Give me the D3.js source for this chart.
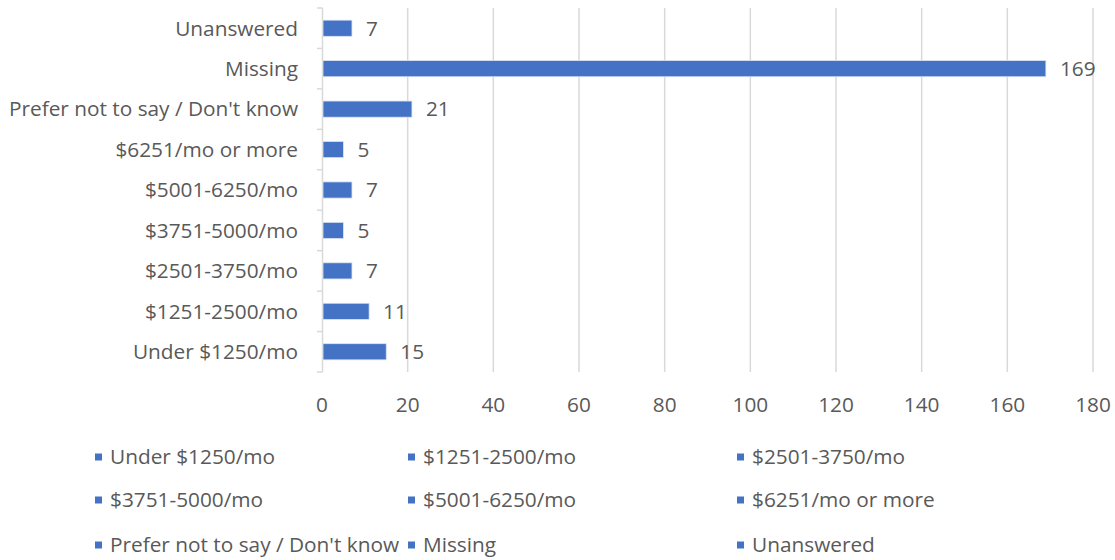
<!DOCTYPE html>
<html><head><meta charset="utf-8">
<script src="https://cdn.jsdelivr.net/npm/d3@7"></script>
<style>body{margin:0;background:#fff}text{font-family:"Open Sans",sans-serif;fill:#595959}</style>
</head><body>
<svg id="c" width="1115" height="560"></svg>
<script>
const categories = ["Under $1250/mo","$1251-2500/mo","$2501-3750/mo","$3751-5000/mo","$5001-6250/mo","$6251/mo or more","Prefer not to say / Don't know","Missing","Unanswered"];
const values = [15,11,7,5,7,5,21,169,7];
const xTicks = [0,20,40,60,80,100,120,140,160,180];
const legendLabels = categories;

const svg = d3.select("#c");
const pLeft = 322, pRight = 1093, pTop = 8, pBottom = 372;
const x = d3.scaleLinear().domain([0,180]).range([pLeft,pRight]);
const y = d3.scaleBand().domain(categories.slice().reverse()).range([pTop,pBottom]).paddingInner(0.6).paddingOuter(0.3);
const yb = d3.scaleBand().domain(categories.slice().reverse()).range([pTop,pBottom]);
const color = "#4472C4";
const fs = 20.8;

// gridlines
svg.append("g").selectAll("line").data(xTicks.slice(1)).join("line")
  .attr("x1",d=>x(d)).attr("x2",d=>x(d)).attr("y1",pTop).attr("y2",pBottom)
  .attr("stroke","#d9d9d9").attr("stroke-width",1.5);

// y axis line and boundary ticks
svg.append("line").attr("x1",pLeft+0.5).attr("x2",pLeft+0.5).attr("y1",pTop).attr("y2",pBottom).attr("stroke","#d9d9d9").attr("stroke-width",1.5);
const bounds = categories.map(c=>yb(c)).concat([pBottom]);
svg.append("g").selectAll("line").data(bounds).join("line")
  .attr("x1",pLeft-5).attr("x2",pLeft+0.5).attr("y1",d=>d).attr("y2",d=>d)
  .attr("stroke","#d9d9d9").attr("stroke-width",1.5);

// bars
svg.append("g").selectAll("rect").data(categories).join("rect")
  .attr("x",x(0)+1).attr("y",d=>y(d)).attr("height",y.bandwidth())
  .attr("width",(d,i)=>x(values[i])-x(0)-1).attr("fill",color)
  .attr("stroke","#dbe4f5").attr("stroke-width",0.8);

// value labels
svg.append("g").selectAll("text").data(categories).join("text")
  .attr("x",(d,i)=>x(values[i])+14).attr("y",d=>y(d)+y.bandwidth()/2)
  .attr("dy","0.35em").attr("font-size",fs).text((d,i)=>values[i]);

// category labels
svg.append("g").selectAll("text").data(categories).join("text")
  .attr("x",298).attr("y",d=>yb(d)+yb.bandwidth()/2).attr("dy","0.35em")
  .attr("text-anchor","end").attr("font-size",fs).text(d=>d);

// x tick labels
svg.append("g").selectAll("text").data(xTicks).join("text")
  .attr("x",d=>x(d)).attr("y",405).attr("dy","0.35em").attr("text-anchor","middle")
  .attr("font-size",fs).text(d=>d);

// legend
const colX = [95,408,737], rowY = [457,500,545];
const lg = svg.append("g").selectAll("g").data(legendLabels).join("g")
  .attr("transform",(d,i)=>`translate(${colX[i%3]},${rowY[Math.floor(i/3)]})`);
lg.append("rect").attr("x",0).attr("y",-3.5).attr("width",7).attr("height",7).attr("fill",color);
lg.append("text").attr("x",15).attr("dy","0.35em").attr("font-size",fs).text(d=>d);
</script>
</body></html>
